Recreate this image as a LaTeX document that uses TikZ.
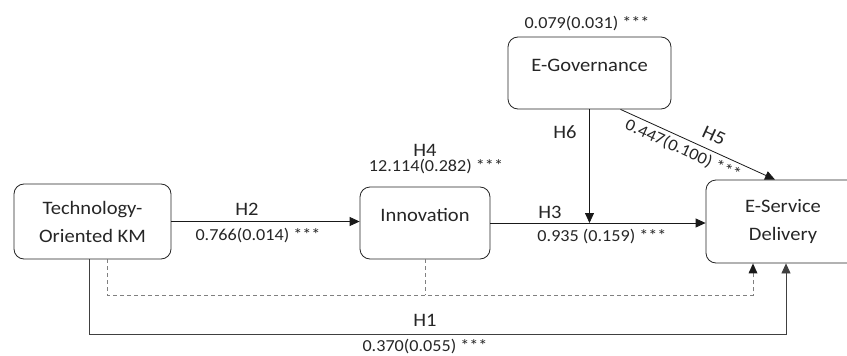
\documentclass[tikz,border=0pt]{standalone}
\usepackage{fontspec}
\newfontfamily\calfont[FakeStretch=1.08]{Carlito}
\usetikzlibrary{arrows.meta}
\definecolor{txt}{HTML}{262626}
\definecolor{dgray}{HTML}{808080}
\begin{document}
\begin{tikzpicture}[x=1pt,y=-1pt,
  box/.style={draw=black!85, rounded corners=10pt, line width=0.8pt, inner sep=0pt,
    align=center, text=txt, font=\calfont\fontsize{19}{28}\selectfont},
  hl/.style={anchor=base, text=txt, font=\calfont\fontsize{19}{23}\selectfont, inner sep=0pt},
  nl/.style={anchor=base, text=txt, font=\calfont\fontsize{16.8}{20}\selectfont, inner sep=0pt},
  conn/.style={draw=black!90, line width=0.8pt, -{Triangle[length=10pt,width=9pt]}},
  dconn/.style={draw=dgray, line width=0.7pt, dash pattern=on 4pt off 3pt},
]
\useasboundingbox (0,0) rectangle (847,356);
\clip (0,0) rectangle (847,356);
\fill[white] (0,0) rectangle (847,356);

\node[box, minimum width=157pt, minimum height=75pt] (tkm) at (92.5,221.5) {Technology-\\Oriented KM};
\node[box, minimum width=130pt, minimum height=72pt, text height=7pt, text depth=10pt] (inn) at (425,223) {Innovation};
\node[box, minimum width=163pt, minimum height=72pt, text height=7pt, text depth=10pt] (egov) at (589.5,73) {E-Governance};
\node[box, minimum width=154pt, minimum height=83pt] (esd) at (783,221.5) {E-Service\\Delivery};

% connectors
\draw[conn] (tkm.east) -- (tkm.east -| inn.west);
\draw[conn] (inn.east) -- (inn.east -| esd.west);
\draw[conn] (egov.south) -- (egov.south |- inn.east);
\draw[conn] ([xshift=31pt]egov.south) -- ([xshift=-8pt]esd.north);
\draw[dconn] ([xshift=14.5pt]tkm.south) -- ++(0,36) -| ([xshift=-30pt]esd.south);
\draw[dconn] (inn.south) -- ++(0,36);
\fill[black!90] ([xshift=-30pt]esd.south) -- ++(-4.5,10) -- ++(9,0) -- cycle;
\draw[conn, draw=black!75] ([xshift=-3.5pt]tkm.south) -- ++(0,75) -| ([xshift=3pt]esd.south);

% labels
\node[hl] (h2) at (247,215) {H2};
\node[nl] (n2) at (258,240) {0.766(0.014) ***};
\node[hl] (h4) at (425,156) {H4};
\node[nl] (n4) at (436,171) {12.114(0.282) ***};
\node[nl] (n6) at (587,28) {0.079(0.031) ***};
\node[hl] (h6) at (565,138) {H6};
\node[hl] (h3) at (550,218) {H3};
\node[nl] (n3) at (602,241) {0.935 (0.159) ***};
\node[hl] (h1) at (425,326) {H1};
\node[nl] (n1) at (425,351.5) {0.370(0.055) ***};
\node[text=txt, font=\calfont\fontsize{19}{23}\selectfont, inner sep=0pt, rotate=-24.6] (h5) at (714,136) {H5};
\node[text=txt, font=\calfont\fontsize{16.8}{20}\selectfont, inner sep=0pt, rotate=-24.6] (n5) at (683,150) {0.447(0.100) ***};
\end{tikzpicture}
\end{document}
